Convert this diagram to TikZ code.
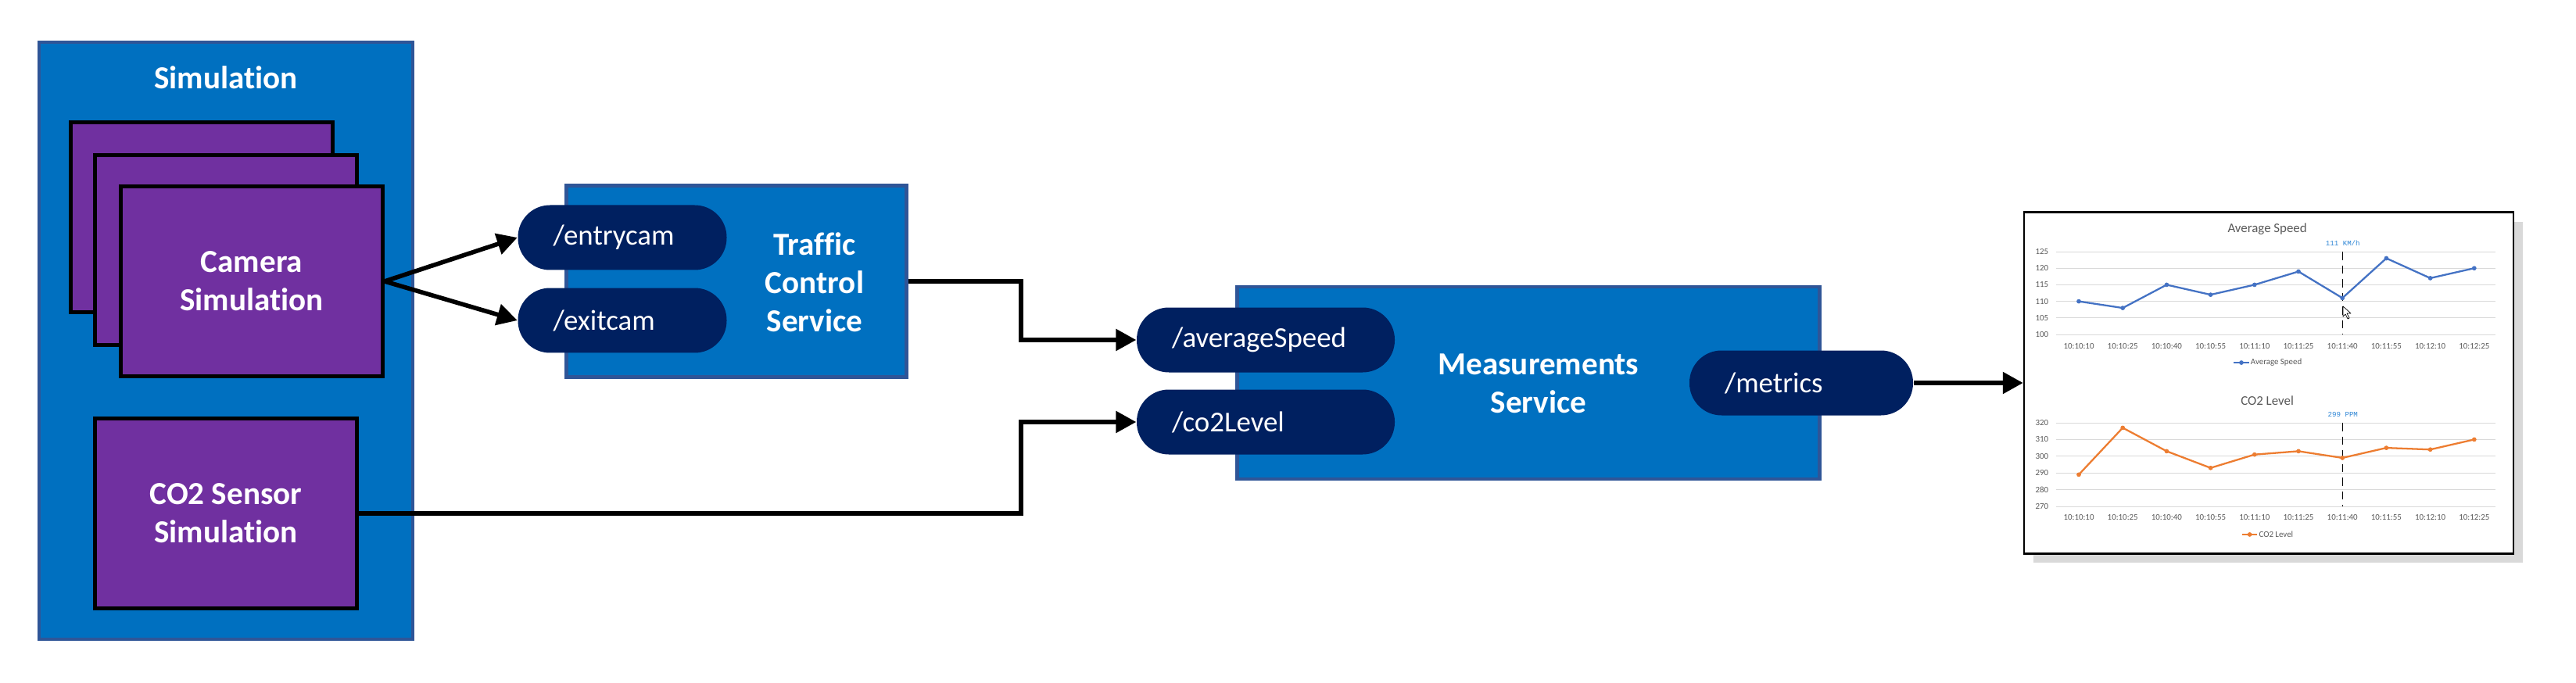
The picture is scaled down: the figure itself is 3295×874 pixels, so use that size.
\documentclass[tikz,border=0pt]{standalone}
\usepackage{fontspec}
\setmainfont{Carlito}[Ligatures=NoCommon]
\setmonofont{Liberation Mono}
\usepackage{tikz}
\usetikzlibrary{arrows.meta,shadows}

\definecolor{simblue}{HTML}{0070C0}
\definecolor{boxedge}{HTML}{2F5597}
\definecolor{simpurple}{HTML}{7030A0}
\definecolor{pillnavy}{HTML}{002060}
\definecolor{speedblue}{HTML}{4472C4}
\definecolor{co2orange}{HTML}{ED7D31}
\definecolor{gridgray}{HTML}{D9D9D9}
\definecolor{ticktext}{HTML}{595959}
\definecolor{annotblue}{HTML}{2E86D6}

\newcommand{\titlefont}{\bfseries\fontsize{11.7}{14}\selectfont}
\newcommand{\pillfont}{\fontsize{10.5}{12}\selectfont}
\newcommand{\charttitlefont}{\fontsize{4.8}{5.5}\selectfont}
\newcommand{\tickfont}{\fontsize{3.1}{3.6}\selectfont}
\newcommand{\annotfont}{\ttfamily\fontsize{2.6}{3}\selectfont}

\begin{document}
\begin{tikzpicture}[x=0.1mm, y=-0.1mm,
    service/.style={draw=boxedge, line width=1.3pt, fill=simblue, inner sep=0pt},
    simbox/.style={draw=black, line width=1.4pt, fill=simpurple, inner sep=0pt,
        minimum width=33.5mm, minimum height=24.3mm, text=white, font=\titlefont, align=center},
    pill/.style={fill=pillnavy, rounded corners=4.1mm, minimum height=8.3mm,
        inner xsep=4.5mm, inner ysep=0pt, align=left, text=white, font=\pillfont},
    title/.style={text=white, font=\titlefont, align=center},
    conn/.style={line width=1.6pt, -{Triangle[length=2.6mm,width=2.7mm]}},
    gridline/.style={gridgray, line width=0.25pt},
    ytick/.style={anchor=east, inner sep=0pt, text=ticktext, font=\tickfont},
    xtick/.style={inner sep=0pt, text=ticktext, font=\tickfont},
    charttitle/.style={inner sep=0pt, text=ticktext, font=\charttitlefont},
    annot/.style={inner sep=0pt, text=annotblue, font=\annotfont},
    marker/.style={densely dashed, line width=0.3pt},
    legendtext/.style={anchor=west, inner sep=0pt, text=ticktext, font=\tickfont},
    speedline/.style={speedblue, line width=0.65pt, mark size=0.7pt, mark options={solid, line width=0.2pt}},
    co2line/.style={co2orange, line width=0.65pt, mark size=0.7pt, mark options={solid, line width=0.2pt}}]
\useasboundingbox (0,0) rectangle (3295,874);

% Simulation
\node[service, minimum width=47.8mm, minimum height=76.4mm] (sim) at (289,436) {};
\node[title] (simtitle) at (289,99) {Simulation};
\foreach \n/\x/\y in {camC/258/278, camB/289/320} {
    \node[simbox] (\n) at (\x,\y) {};
}
\node[simbox] (cam) at (322,360) {Camera\\Simulation};
\node[simbox] (co2) at (289,657) {CO2 Sensor\\Simulation};

% Traffic Control Service
\node[service, minimum width=43.5mm, minimum height=24.5mm] (traffic) at (942,360) {};
\node[title] (traffictitle) at (1042,361) {Traffic\\Control\\Service};
\node[pill, text width=17.7mm] (entry) at (796,304) {/entrycam};
\node[pill, text width=17.7mm] (exit) at (796,410) {/exitcam};

% Measurements Service
\node[service, minimum width=74.5mm, minimum height=24.6mm] (meas) at (1955,490) {};
\node[title] (meastitle) at (1968,491) {Measurements\\Service};
\node[pill, text width=24mm] (avg) at (1619,435) {/averageSpeed};
\node[pill, text width=24mm] (co2lvl) at (1619,540) {/co2Level};
\node[pill, text width=19.6mm] (metrics) at (2304,490) {/metrics};

% dashboard
\node[draw=black, line width=0.7pt, fill=white, minimum width=62.6mm, minimum height=43.7mm,
    drop shadow={shadow xshift=1.2mm, shadow yshift=-1.2mm, opacity=0.3}] (chart) at (2902,490) {};

% Average Speed
\begin{scope}[shift={(2659,852)}, x=5.62mm, y=0.424mm]
\foreach \v in {100,105,...,125} {
    \draw[gridline] (-0.52,\v) -- (9.48,\v);
    \node[ytick] (sy\v) at (-0.68,\v) {\v};
}
\foreach \t [count=\i from 0] in {10:10:10,10:10:25,10:10:40,10:10:55,10:11:10,10:11:25,10:11:40,10:11:55,10:12:10,10:12:25} {
    \node[xtick] (sx\i) at (\i,96.5) {\t};
}
\node[charttitle] (speedtitle) at (4.29,131.8) {Average Speed};
\draw[marker] (6,125) -- (6,100);
\node[annot] (speednote) at (6.01,127.6) {111 KM/h};
\draw[speedline] plot[mark=*] coordinates {(0,110) (1,108) (2,115) (3,112) (4,115) (5,119) (6,111) (7,123) (8,117) (9,120)};
\draw[speedline] plot[mark=*, mark repeat=2, mark phase=2] coordinates {(3.52,91.5) (3.70,91.5) (3.88,91.5)};
\node[legendtext] (speedkey) at (3.9,91.5) {Average Speed};
\end{scope}
% mouse pointer
\draw[fill=white, line width=0.2pt, line join=round] (2997,392) -- ++(0,13) -- ++(3,-3) -- ++(3,6) -- ++(2,-1) -- ++(-3,-6) -- ++(5,0) -- cycle;

% CO2 Level
\begin{scope}[shift={(2659,1225.8)}, x=5.62mm, y=0.214mm]
\foreach \v in {270,280,...,320} {
    \draw[gridline] (-0.52,\v) -- (9.48,\v);
    \node[ytick] (cy\v) at (-0.68,\v) {\v};
}
\foreach \t [count=\i from 0] in {10:10:10,10:10:25,10:10:40,10:10:55,10:11:10,10:11:25,10:11:40,10:11:55,10:12:10,10:12:25} {
    \node[xtick] (cx\i) at (\i,263.5) {\t};
}
\node[charttitle] (co2title) at (4.29,333.2) {CO2 Level};
\draw[marker] (6,320) -- (6,270);
\node[annot] (co2note) at (6.01,324.8) {299 PPM};
\draw[co2line] plot[mark=*] coordinates {(0,289) (1,317) (2,303) (3,293) (4,301) (5,303) (6,299) (7,305) (8,304) (9,310)};
\draw[co2line] plot[mark=*, mark repeat=2, mark phase=2] coordinates {(3.72,253.2) (3.89,253.2) (4.06,253.2)};
\node[legendtext] (co2key) at (4.09,253.2) {CO2 Level};
\end{scope}

% connectors
\draw[conn] (cam.east) -- (entry.west);
\draw[conn] (cam.east) -- (exit.west);
\coordinate (bendA) at (1306,435);
\coordinate (bendB) at (1306,540);
\draw[conn] (traffic.east) -| (bendA) -- (avg.west);
\draw[conn] (co2.east) -| (bendB) -- (co2lvl.west);
\draw[conn] (metrics.east) -- (chart.west);
\end{tikzpicture}
\end{document}
